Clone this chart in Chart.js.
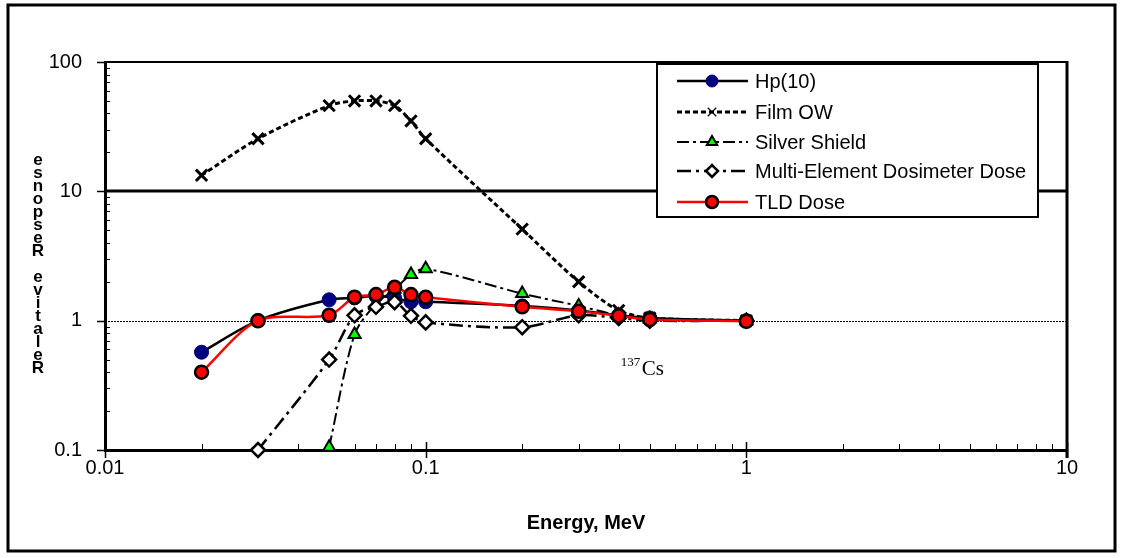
<!DOCTYPE html>
<html><head><meta charset="utf-8">
<script src="https://cdn.jsdelivr.net/npm/chart.js@4.4.1/dist/chart.umd.min.js"></script>
<style>html,body{margin:0;padding:0;background:#fff;}#wrap{width:1122px;height:558px;}</style>
</head><body><div id="wrap"><canvas id="c" width="1122" height="558"></canvas></div>
<script>
// ---- data ----
const energies      = [0.02, 0.03, 0.05, 0.06, 0.07, 0.08, 0.09, 0.1, 0.2, 0.3, 0.4, 0.5, 1];
const hp10          = [0.57, 1.0, 1.45, 1.5, 1.55, 1.5, 1.4, 1.4, 1.3, 1.2, 1.1, 1.05, 1.0];
const filmOW        = [13.3, 25.5, 46, 50, 50, 46, 35, 25.5, 5.1, 2.0, 1.2, 1.05, 1.0];
const silverShield  = [null, null, 0.105, 0.78, 1.35, 1.75, 2.27, 2.52, 1.62, 1.3, 1.1, 1.03, 1.0];
const multiElement  = [null, 0.1, 0.5, 1.1, 1.28, 1.39, 1.09, 0.97, 0.89, 1.1, 1.05, 1.0, 1.0];
const tldDose       = [0.4, 1.0, 1.1, 1.52, 1.59, 1.81, 1.59, 1.52, 1.28, 1.18, 1.09, 1.02, 0.99];
const seriesNames   = ['Hp(10)', 'Film OW', 'Silver Shield', 'Multi-Element Dosimeter Dose', 'TLD Dose'];
const xTickValues   = [0.01, 0.1, 1, 10];
const xTickLabels   = ['0.01', '0.1', '1', '10'];
const yTickValues   = [0.1, 1, 10, 100];
const yTickLabels   = ['0.1', '1', '10', '100'];
const xTitle        = 'Energy, MeV';
const yTitle        = 'Relative Response';
const annotation    = {sup: '137', main: 'Cs'};

const pts = arr => energies.map((e, i) => ({x: e, y: arr[i]}));
const FONT = '"Liberation Sans", Arial, sans-serif';

const datasets = [
  {label: seriesNames[0], data: pts(hp10), borderColor: '#000', borderWidth: 2.5, borderDash: [],
   pointStyle: 'circle', pointRadius: 7, pointBackgroundColor: '#000080', pointBorderColor: '#000080', pointBorderWidth: 1, order: 5},
  {label: seriesNames[1], data: pts(filmOW), borderColor: '#000', borderWidth: 3, borderDash: [5, 3],
   pointStyle: 'crossRot', pointRadius: 8, pointBackgroundColor: '#000', pointBorderColor: '#000', pointBorderWidth: 3, order: 4},
  {label: seriesNames[2], data: pts(silverShield), borderColor: '#000', borderWidth: 2, borderDash: [12, 4, 3, 4],
   pointStyle: 'triangle', pointRadius: 7, pointBackgroundColor: '#00ff00', pointBorderColor: '#000', pointBorderWidth: 2, order: 3},
  {label: seriesNames[3], data: pts(multiElement), borderColor: '#000', borderWidth: 2.5, borderDash: [14, 5, 3, 5],
   pointStyle: 'rectRot', pointRadius: 7, pointBackgroundColor: '#fff', pointBorderColor: '#000', pointBorderWidth: 2.5, order: 2},
  {label: seriesNames[4], data: pts(tldDose), borderColor: '#ff0000', borderWidth: 2.5, borderDash: [],
   pointStyle: 'circle', pointRadius: 6.5, pointBackgroundColor: '#ff0000', pointBorderColor: '#000', pointBorderWidth: 2.5, order: 1}
];
datasets.forEach(d => { d.tension = 0.3; d.fill = false; d.clip = 12; d.spanGaps = false; });

const decorPlugin = {
  id: 'decor',
  beforeDraw(chart) {
    const ctx = chart.ctx;
    ctx.save();
    ctx.fillStyle = '#fff';
    ctx.fillRect(0, 0, chart.width, chart.height);
    ctx.strokeStyle = '#000';
    ctx.lineWidth = 3;
    ctx.strokeRect(8, 5, 1107, 546);
    ctx.restore();
  },
  beforeDatasetsDraw(chart) {
    const ctx = chart.ctx, a = chart.chartArea, xs = chart.scales.x, ys = chart.scales.y;
    ctx.save();
    ctx.strokeStyle = '#000';
    const line = (x1, y1, x2, y2) => { ctx.beginPath(); ctx.moveTo(x1, y1); ctx.lineTo(x2, y2); ctx.stroke(); };
    ctx.lineWidth = 3;
    let y10 = Math.round(ys.getPixelForValue(10));
    line(a.left, y10, a.right, y10);
    ctx.lineWidth = 1;
    ctx.setLineDash([2, 1]);
    let y1 = Math.round(ys.getPixelForValue(1)) + 0.5;
    line(a.left, y1, a.right, y1);
    ctx.setLineDash([]);
    ctx.lineWidth = 2;
    line(a.left, a.top, a.right, a.top);
    ctx.lineWidth = 3;
    line(a.right, a.top - 1, a.right, a.bottom + 8);
    ctx.lineWidth = 1;
    [0.01, 0.1, 1].forEach(d => {
      for (let k = 2; k <= 9; k++) {
        const x = Math.round(xs.getPixelForValue(k * d)) + 0.5;
        line(x, a.bottom, x, a.bottom - 6);
      }
    });
    xTickValues.forEach(v => {
      const x = Math.round(xs.getPixelForValue(v)) + 0.5;
      ctx.lineWidth = 1.5;
      line(x, a.bottom - 8, x, a.bottom + 8);
    });
    ctx.lineWidth = 1;
    [0.1, 1, 10].forEach(d => {
      for (let k = 2; k <= 9; k++) {
        const y = Math.round(ys.getPixelForValue(k * d)) + 0.5;
        line(a.left, y, a.left + 5, y);
      }
    });
    yTickValues.forEach(v => {
      const y = Math.round(ys.getPixelForValue(v)) + 0.5;
      ctx.lineWidth = 1.5;
      line(a.left - 8, y, a.left, y);
    });
    ctx.restore();
  },
  afterDraw(chart) {
    const ctx = chart.ctx, a = chart.chartArea, xs = chart.scales.x, ys = chart.scales.y;
    ctx.save();
    ctx.fillStyle = '#000';
    ctx.font = 'bold 20px ' + FONT;
    ctx.textAlign = 'center';
    ctx.textBaseline = 'middle';
    ctx.fillText(xTitle, (a.left + a.right) / 2, 523);
    // y title: stacked upright letters, reversed (as in reference)
    ctx.font = 'bold 17px ' + FONT;
    const chars = yTitle.split('').reverse();
    chars.forEach((ch, i) => { if (ch !== ' ') ctx.fillText(ch, 38, 160 + i * 13); });
    // 137Cs annotation
    const ax = xs.getPixelForValue(0.4), ay = ys.getPixelForValue(0.55);
    ctx.textAlign = 'left';
    ctx.textBaseline = 'alphabetic';
    ctx.font = '13px "Liberation Serif", "Times New Roman", serif';
    ctx.fillText(annotation.sup, ax + 2, ay + 12);
    ctx.font = '21px "Liberation Serif", "Times New Roman", serif';
    ctx.fillText(annotation.main, ax + 23, ay + 21);
    // legend
    const bx = 657, by = 64, bw = 381, bh = 153;
    ctx.fillStyle = '#fff';
    ctx.fillRect(bx, by, bw, bh);
    ctx.strokeStyle = '#000';
    ctx.lineWidth = 2;
    ctx.strokeRect(bx, by, bw, bh);
    const rows = [81, 112, 142, 171, 202];
    chart.data.datasets.forEach((d, i) => {
      const yy = rows[i];
      ctx.save();
      ctx.strokeStyle = d.borderColor;
      ctx.lineWidth = d.borderWidth;
      ctx.setLineDash(d.borderDash || []);
      ctx.beginPath(); ctx.moveTo(677, yy); ctx.lineTo(748, yy); ctx.stroke();
      ctx.setLineDash([]);
      ctx.fillStyle = d.pointBackgroundColor;
      ctx.strokeStyle = d.pointBorderColor;
      ctx.lineWidth = i === 1 ? 1.2 : d.pointBorderWidth;
      Chart.helpers.drawPoint(ctx, {pointStyle: d.pointStyle, radius: 6, rotation: 0, borderWidth: ctx.lineWidth}, 712, yy);
      ctx.restore();
      ctx.fillStyle = '#000';
      ctx.font = '20px ' + FONT;
      ctx.textAlign = 'left';
      ctx.textBaseline = 'middle';
      ctx.fillText(d.label, 755, yy + 1);
    });
    ctx.restore();
  }
};

new Chart(document.getElementById('c'), {
  type: 'line',
  data: {datasets},
  options: {
    responsive: false,
    animation: false,
    devicePixelRatio: 1,
    layout: {padding: {left: 0, right: 55, top: 62, bottom: 0}},
    plugins: {legend: {display: false}, tooltip: {enabled: false}},
    scales: {
      x: {
        type: 'logarithmic', min: 0.01, max: 10,
        afterBuildTicks: s => { s.ticks = xTickValues.map(v => ({value: v})); },
        afterFit: s => { s.height = 108; },
        ticks: {color: '#000', font: {family: FONT, size: 20}, padding: 6, maxRotation: 0, autoSkip: false,
                callback: (v) => xTickLabels[xTickValues.indexOf(v)] ?? ''},
        grid: {display: false, drawTicks: false},
        border: {display: true, color: '#000', width: 3}
      },
      y: {
        type: 'logarithmic', min: 0.1, max: 100,
        afterBuildTicks: s => { s.ticks = yTickValues.map(v => ({value: v})); },
        afterFit: s => { s.width = 105; },
        ticks: {color: '#000', font: {family: FONT, size: 20}, padding: 23, autoSkip: false,
                callback: (v) => yTickLabels[yTickValues.indexOf(v)] ?? ''},
        grid: {display: false, drawTicks: false},
        border: {display: true, color: '#000', width: 3}
      }
    }
  },
  plugins: [decorPlugin]
});
</script></body></html>
